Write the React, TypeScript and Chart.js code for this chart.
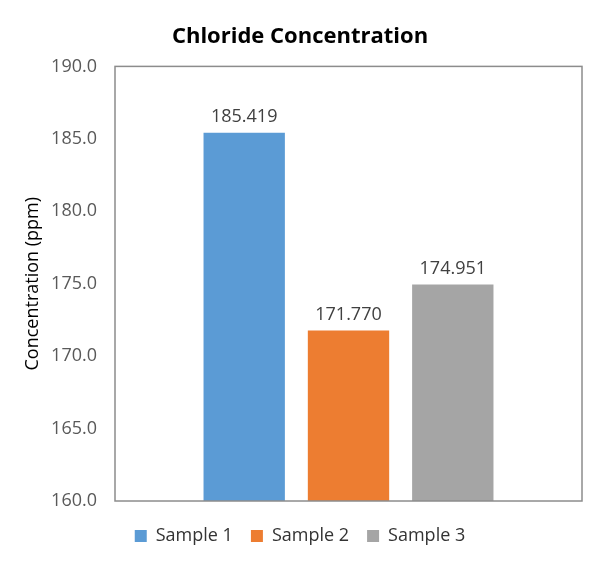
import { useEffect, useRef } from "react";
import Chart from "chart.js/auto";

const categories = [""];
const seriesNames = ["Sample 1", "Sample 2", "Sample 3"];
const seriesValues = [[185.419], [171.77], [174.951]];
const seriesColors = ["#5B9BD5", "#ED7D31", "#A5A5A5"];
const yTicks = [160, 165, 170, 175, 180, 185, 190];

const FONT = "'Open Sans', 'Noto Sans', sans-serif";

// draws the value above each bar and the box round the plot area
const extras = {
  id: "extras",
  afterDatasetsDraw(chart: any) {
    const { ctx, chartArea } = chart;
    ctx.save();
    ctx.font = `18px ${FONT}`;
    ctx.fillStyle = "#404040";
    ctx.textAlign = "center";
    ctx.textBaseline = "bottom";
    chart.data.datasets.forEach((ds: any, i: number) => {
      const meta = chart.getDatasetMeta(i);
      meta.data.forEach((bar: any, j: number) => {
        ctx.fillText(Number(ds.data[j]).toFixed(3), bar.x, bar.y - 7);
      });
    });
    ctx.strokeStyle = "#8c8c8c";
    ctx.lineWidth = 1.5;
    ctx.strokeRect(chartArea.left, chartArea.top, chartArea.right - chartArea.left, chartArea.bottom - chartArea.top);
    ctx.restore();
  },
};

export default function App() {
  const ref = useRef<HTMLCanvasElement | null>(null);

  useEffect(() => {
    if (!ref.current) return;
    const chart = new Chart(ref.current, {
      type: "bar",
      data: {
        labels: categories,
        datasets: seriesNames.map((name, i) => ({
          label: name,
          data: seriesValues[i],
          backgroundColor: seriesColors[i],
          borderWidth: 0,
          categoryPercentage: 0.67,
          barPercentage: 0.78,
        })),
      },
      options: {
        responsive: true,
        maintainAspectRatio: false,
        animation: false,
        layout: { padding: { left: 0, right: 0, top: 0, bottom: 8 } },
        plugins: {
          title: {
            display: true,
            text: "Chloride Concentration",
            color: "#000",
            font: { family: FONT, size: 22, weight: "bold" },
            padding: { top: 24, bottom: 16 },
          },
          legend: {
            position: "bottom",
            labels: {
              boxWidth: 12,
              boxHeight: 12,
              padding: 18,
              color: "#333333",
              font: { family: FONT, size: 18 },
            },
          },
          tooltip: { enabled: false },
        },
        scales: {
          x: {
            ticks: { display: false },
            grid: { display: false },
            border: { display: false },
          },
          y: {
            min: 160,
            max: 190,
            afterBuildTicks: (scale: any) => {
              scale.ticks = yTicks.map((v) => ({ value: v }));
            },
            afterFit: (scale: any) => {
              scale.width = 115;
            },
            ticks: {
              padding: 18,
              color: "#595959",
              font: { family: FONT, size: 18 },
              callback: (v: any) => Number(v).toFixed(1),
            },
            grid: { display: false, drawTicks: false },
            border: { display: false },
            title: {
              display: true,
              text: "Concentration (ppm)",
              color: "#000",
              font: { family: FONT, size: 18 },
              padding: { top: 22, bottom: 0 },
            },
          },
          // empty right-hand axis only to leave the right margin
          y2: {
            position: "right",
            min: 0,
            max: 1,
            afterFit: (scale: any) => {
              scale.width = 18;
            },
            ticks: { display: false },
            grid: { display: false, drawTicks: false },
            border: { display: false },
          },
        },
      },
      plugins: [extras],
    });
    return () => chart.destroy();
  }, []);

  return (
    <div style={{ position: "fixed", left: 0, top: 0, width: 600, height: 563, background: "#fff" }}>
      <canvas ref={ref} aria-label="Chloride concentration bar chart" />
    </div>
  );
}
